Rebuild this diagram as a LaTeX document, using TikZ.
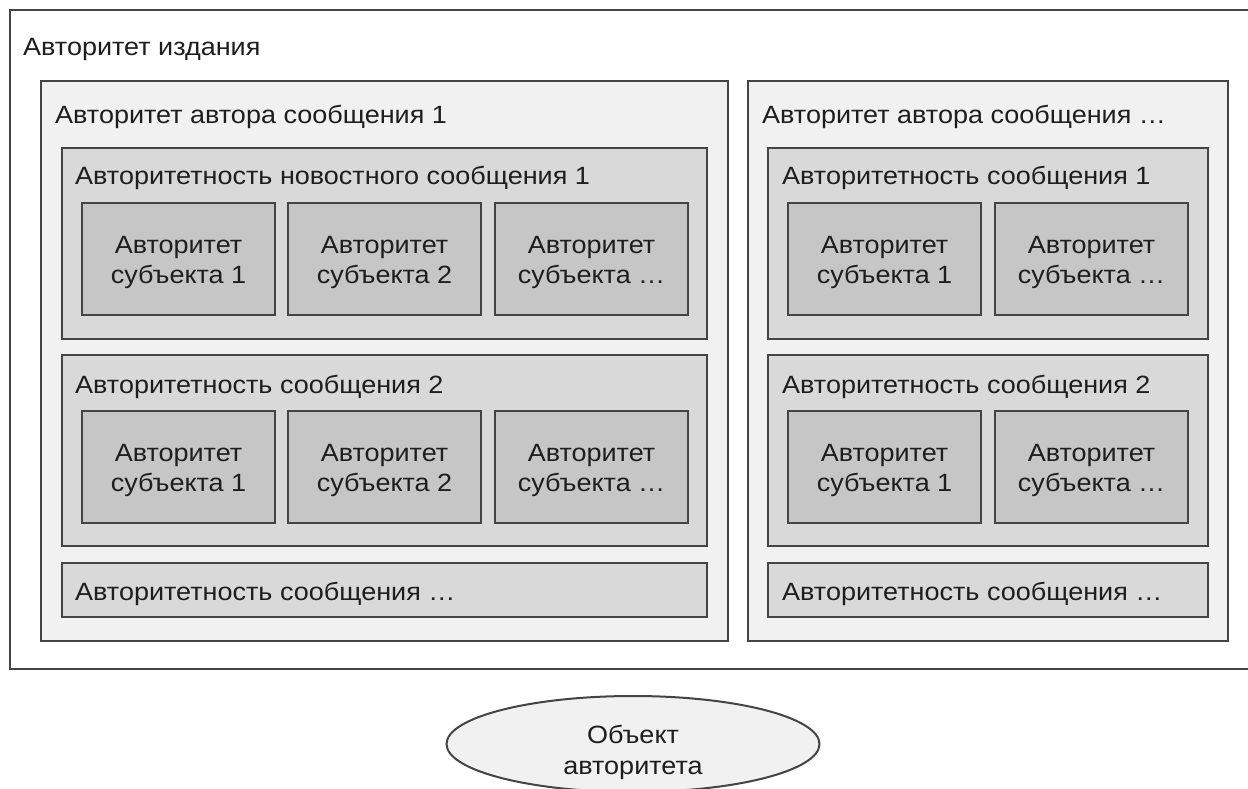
\documentclass[tikz,border=0pt]{standalone}
\usepackage{fontspec}
\setmainfont{Liberation Sans}[FakeStretch=1.08]
\usetikzlibrary{shapes.geometric}
\definecolor{bordc}{HTML}{444444}
\definecolor{txtc}{HTML}{1E1E1E}
\definecolor{cA}{HTML}{F1F1F1}
\definecolor{cM}{HTML}{D9D9D9}
\definecolor{cS}{HTML}{C6C6C6}
\tikzset{
  box/.style={draw=bordc, line width=2pt, anchor=north west, inner sep=0pt, outer sep=0pt},
  pubbox/.style={box, fill=white},
  authbox/.style={box, fill=cA, minimum height=560pt},
  msgbox/.style={box, fill=cM},
  subjbox/.style={box, fill=cS, minimum width=193pt, minimum height=112pt},
  intext/.style={align=center, text=txtc, inner sep=0pt, font=\fontsize{25}{30}\selectfont},
  lbl/.style={anchor=base west, inner sep=0pt, text=txtc, font=\fontsize{25}{30}\selectfont},
  obj/.style={ellipse, draw=bordc, line width=2pt, fill=cA, minimum width=373pt, minimum height=96pt, inner sep=0pt}
}
\newcommand\subj[3]{\node[subjbox, label={[intext, yshift=-3pt]center:#3}] (#1) at (#2) {};}
\begin{document}
\begin{tikzpicture}[x=1pt,y=-1pt]
\useasboundingbox (0,0) rectangle (1248,789);
\clip (0,0) rectangle (1248,789);
% publication
\node[pubbox, minimum width=1260pt, minimum height=659pt] (pub) at (10,10) {};
\node[lbl] (publ) at (23,56) {Авторитет издания};
% authors
\node[authbox, minimum width=687pt] (a1) at (41,81) {};
\node[lbl] (a1l) at (55,124) {Авторитет автора сообщения 1};
\node[authbox, minimum width=480pt] (a2) at (748,81) {};
\node[lbl] (a2l) at (762,124) {Авторитет автора сообщения …};
% left messages
\node[msgbox, minimum width=645pt, minimum height=191pt] (m11) at (62,148) {};
\node[lbl] (m11l) at (75,185) {Авторитетность новостного сообщения 1};
\node[msgbox, minimum width=645pt, minimum height=191pt] (m12) at (62,355) {};
\node[lbl] (m12l) at (75,393) {Авторитетность сообщения 2};
\node[msgbox, minimum width=645pt, minimum height=54pt] (m13) at (62,563) {};
\node[lbl] (m13l) at (75,600) {Авторитетность сообщения …};
% right messages
\node[msgbox, minimum width=440pt, minimum height=191pt] (m21) at (768,148) {};
\node[lbl] (m21l) at (782,185) {Авторитетность сообщения 1};
\node[msgbox, minimum width=440pt, minimum height=191pt] (m22) at (768,355) {};
\node[lbl] (m22l) at (782,393) {Авторитетность сообщения 2};
\node[msgbox, minimum width=440pt, minimum height=54pt] (m23) at (768,563) {};
\node[lbl] (m23l) at (782,600) {Авторитетность сообщения …};
% subjects left
\subj{s111}{82,203}{Авторитет\\субъекта 1}
\subj{s112}{288,203}{Авторитет\\субъекта 2}
\subj{s113}{495,203}{Авторитет\\субъекта …}
\subj{s121}{82,411}{Авторитет\\субъекта 1}
\subj{s122}{288,411}{Авторитет\\субъекта 2}
\subj{s123}{495,411}{Авторитет\\субъекта …}
% subjects right
\subj{s211}{788,203}{Авторитет\\субъекта 1}
\subj{s212}{995,203}{Авторитет\\субъекта …}
\subj{s221}{788,411}{Авторитет\\субъекта 1}
\subj{s222}{995,411}{Авторитет\\субъекта …}
% object
\node[obj, label={[intext, yshift=-8pt, font=\fontsize{25}{31}\selectfont]center:Объект\\авторитета}] (obj) at (633,744) {};
\end{tikzpicture}
\end{document}
